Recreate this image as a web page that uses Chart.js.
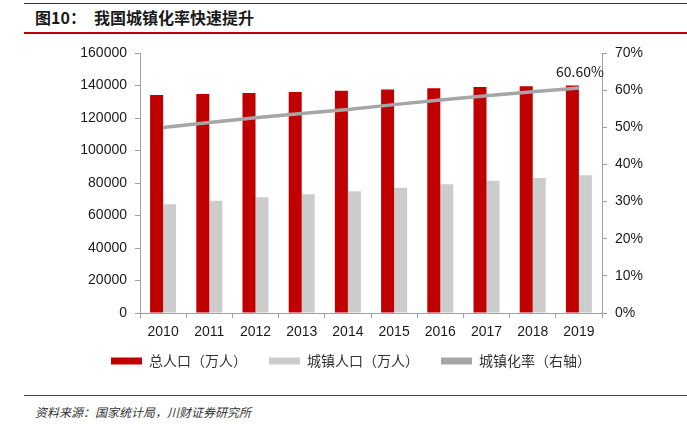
<!DOCTYPE html>
<html>
<head>
<meta charset="utf-8">
<script src="https://cdn.jsdelivr.net/npm/chart.js@4/dist/chart.umd.min.js"></script>
<style>
  html, body { margin: 0; padding: 0; background: #fff; }
  #page { position: relative; width: 687px; height: 425px; overflow: hidden; }
  .rule { position: absolute; left: 24px; width: 663px; }
  #title {
    position: absolute; left: 35px; top: 5px;
    font: bold 16px "Noto Sans CJK SC", sans-serif; color: #1a1a1a;
    white-space: nowrap;
  }
  #title span { margin-left: 8px; }
  #source {
    position: absolute; left: 35px; top: 403px;
    font: italic 12px "Noto Sans CJK SC", sans-serif; color: #333;
    white-space: nowrap;
  }
  #chart { position: absolute; left: 0; top: 0; }
</style>
</head>
<body>
<div id="page">
  <div class="rule" style="top:3px;height:1px;background:#333;"></div>
  <div id="title">图10：<span>我国城镇化率快速提升</span></div>
  <div class="rule" style="top:32px;height:2px;background:#c00000;"></div>
  <canvas id="chart" width="687" height="384"></canvas>
  <div class="rule" style="top:395px;height:1px;background:#444;"></div>
  <div id="source">资料来源：国家统计局，川财证券研究所</div>
</div>
<script>
/* ======================
   DATA
====================== */
const years = ["2010", "2011", "2012", "2013", "2014", "2015", "2016", "2017", "2018", "2019"];
const totalPop = [134091, 134735, 135404, 136072, 136782, 137462, 138271, 139008, 139538, 140005];
const urbanPop = [66978, 69079, 71182, 73111, 74916, 77116, 79298, 81347, 83137, 84843];
const urbanRate = [49.95, 51.27, 52.57, 53.73, 54.77, 56.10, 57.35, 58.52, 59.58, 60.60];

const seriesNames = ["总人口（万人）", "城镇人口（万人）", "城镇化率（右轴）"];
const leftTicks = { max: 160000, step: 20000 };
const rightTicks = { max: 70, step: 10 };

const RED = "#c00000";
const GRAY_BAR = "#cccccc";
const GRAY_LINE = "#a6a6a6";
const AXIS = "#a0a0a0";

const tickFont = { family: "'Liberation Sans', Arial, sans-serif", size: 14 };

/* ======================
   LAST POINT LABEL
====================== */
const lastLabel = {
  id: "lastLabel",
  afterDatasetsDraw(chart) {
    const meta = chart.getDatasetMeta(2);
    const i = urbanRate.length - 1;
    const pt = meta.data[i];
    if (!pt) return;
    const ctx = chart.ctx;
    ctx.save();
    ctx.font = "14px 'Noto Sans CJK SC', sans-serif";
    ctx.fillStyle = "#1a1a1a";
    ctx.textAlign = "center";
    ctx.textBaseline = "middle";
    ctx.fillText(urbanRate[i].toFixed(2) + "%", pt.x + 1, pt.y - 16);
    ctx.restore();
  }
};

// pull the legend a bit closer to the axis labels
const legendNudge = {
  id: "legendNudge",
  afterLayout(chart) {
    if (!chart.legend) return;
    chart.legend.top -= 6;
    chart.legend.bottom -= 6;
  }
};

/* ======================
   CHART
====================== */
new Chart(document.getElementById("chart"), {
  type: "bar",
  data: {
    labels: years,
    datasets: [
      {
        label: seriesNames[0],
        data: totalPop,
        backgroundColor: RED,
        yAxisID: "y",
        order: 1,
        categoryPercentage: 0.563,
        barPercentage: 1
      },
      {
        label: seriesNames[1],
        data: urbanPop,
        backgroundColor: GRAY_BAR,
        yAxisID: "y",
        order: 1,
        categoryPercentage: 0.563,
        barPercentage: 1
      },
      {
        type: "line",
        label: seriesNames[2],
        data: urbanRate,
        borderColor: GRAY_LINE,
        backgroundColor: GRAY_LINE,
        borderWidth: 3.5,
        pointRadius: 0,
        tension: 0,
        yAxisID: "y1",
        order: 0
      }
    ]
  },
  options: {
    responsive: false,
    animation: false,
    devicePixelRatio: 1,
    layout: { padding: { top: 53, left: 15, right: 0, bottom: 0 } },
    plugins: {
      tooltip: { enabled: false },
      legend: {
        position: "bottom",
        labels: {
          boxWidth: 31,
          boxHeight: 7,
          padding: 22,
          color: "#333",
          font: { family: "'Noto Sans CJK SC', sans-serif", size: 14 },
          sort: (a, b) => a.datasetIndex - b.datasetIndex,
          generateLabels(chart) {
            const items = Chart.defaults.plugins.legend.labels.generateLabels(chart);
            items.forEach(it => { it.lineWidth = 0; });
            return items;
          }
        }
      }
    },
    scales: {
      x: {
        offset: true,
        grid: { offset: true, drawOnChartArea: false, drawTicks: true, tickLength: 5, color: AXIS },
        border: { display: true, color: AXIS },
        ticks: { color: "#1a1a1a", font: tickFont, padding: 6, maxRotation: 0 },
        afterFit(scale) { scale.height = 25; }
      },
      y: {
        position: "left",
        min: 0,
        max: leftTicks.max,
        ticks: {
          stepSize: leftTicks.step,
          color: "#1a1a1a",
          font: tickFont,
          padding: 8,
          callback: v => String(v)
        },
        grid: { drawOnChartArea: false, drawTicks: true, tickLength: 5, color: AXIS },
        border: { display: true, color: AXIS },
        afterFit(scale) { scale.width = 125; }
      },
      y1: {
        position: "right",
        min: 0,
        max: rightTicks.max,
        ticks: {
          stepSize: rightTicks.step,
          color: "#1a1a1a",
          font: tickFont,
          padding: 8,
          callback: v => v + "%"
        },
        grid: { drawOnChartArea: false, drawTicks: true, tickLength: 5, color: AXIS },
        border: { display: true, color: AXIS },
        afterFit(scale) { scale.width = 85; }
      }
    }
  },
  plugins: [lastLabel, legendNudge]
});
</script>
</body>
</html>
